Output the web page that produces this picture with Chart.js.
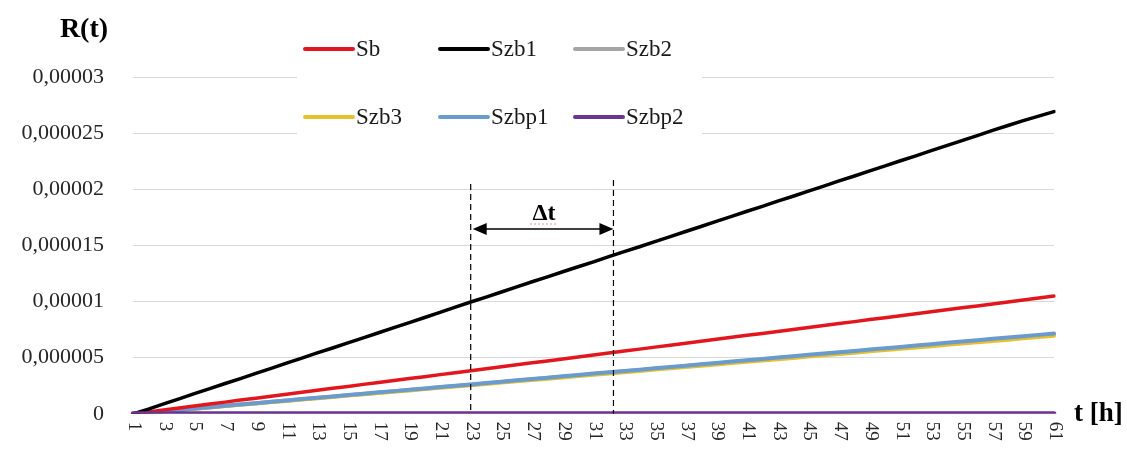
<!DOCTYPE html>
<html><head><meta charset="utf-8">
<script src="https://cdn.jsdelivr.net/npm/chart.js@4.4.1/dist/chart.umd.min.js"></script>
<style>html,body{margin:0;padding:0;background:#fff;}canvas{display:block;}</style>
</head><body>
<canvas id="c" width="1127" height="456"></canvas>
<script>
const CATEGORIES = ['1','2','3','4','5','6','7','8','9','10','11','12','13','14','15','16','17','18','19','20',
  '21','22','23','24','25','26','27','28','29','30','31','32','33','34','35','36','37','38','39','40',
  '41','42','43','44','45','46','47','48','49','50','51','52','53','54','55','56','57','58','59','60','61'];

// values in units of 1e-6
const SB = [0,0.16,0.35,0.52,0.69,0.87,1.04,1.22,1.38,1.57,
  1.74,1.91,2.09,2.27,2.43,2.62,2.79,2.96,3.14,3.31,
  3.49,3.66,3.84,4.01,4.19,4.36,4.54,4.71,4.89,5.06,
  5.24,5.41,5.59,5.76,5.94,6.11,6.29,6.46,6.64,6.81,
  6.99,7.16,7.34,7.51,7.69,7.86,8.04,8.21,8.39,8.56,
  8.74,8.91,9.09,9.26,9.44,9.61,9.79,9.96,10.14,10.31,
  10.49];
const SZB1 = [0,0.42,0.88,1.33,1.80,2.24,2.70,3.14,3.60,4.05,
  4.52,4.96,5.42,5.86,6.32,6.77,7.22,7.68,8.12,8.58,
  9.04,9.50,9.96,10.40,10.85,11.30,11.76,12.20,12.65,13.10,
  13.54,14.00,14.44,14.88,15.34,15.78,16.24,16.68,17.14,17.58,
  18.04,18.48,18.94,19.38,19.84,20.28,20.74,21.18,21.64,22.08,
  22.54,22.98,23.44,23.88,24.34,24.78,25.24,25.68,26.12,26.52,
  26.92];
const SZB2 = [0,0.11,0.23,0.35,0.46,0.58,0.70,0.82,0.94,1.06,
  1.18,1.29,1.41,1.53,1.65,1.77,1.88,2.00,2.12,2.24,
  2.36,2.48,2.59,2.71,2.83,2.95,3.07,3.18,3.30,3.42,
  3.54,3.66,3.78,3.89,4.01,4.13,4.25,4.37,4.48,4.60,
  4.72,4.84,4.96,5.07,5.19,5.31,5.43,5.55,5.66,5.78,
  5.90,6.02,6.14,6.25,6.37,6.49,6.61,6.73,6.84,6.96,
  7.08];
const SZB3 = [0,0.11,0.22,0.34,0.45,0.57,0.69,0.80,0.92,1.04,
  1.15,1.27,1.38,1.50,1.62,1.73,1.85,1.96,2.08,2.20,
  2.31,2.43,2.54,2.66,2.78,2.89,3.01,3.12,3.24,3.36,
  3.47,3.59,3.70,3.82,3.94,4.05,4.17,4.28,4.40,4.52,
  4.63,4.75,4.86,4.98,5.10,5.21,5.33,5.44,5.56,5.68,
  5.79,5.91,6.02,6.14,6.26,6.37,6.49,6.60,6.72,6.84,
  6.95];
const SZBP1 = [0,0.11,0.23,0.35,0.47,0.59,0.71,0.83,0.95,1.07,
  1.19,1.31,1.43,1.55,1.67,1.79,1.91,2.02,2.14,2.26,
  2.38,2.50,2.62,2.74,2.86,2.98,3.10,3.22,3.34,3.46,
  3.58,3.70,3.82,3.93,4.05,4.17,4.29,4.41,4.53,4.65,
  4.77,4.89,5.01,5.13,5.25,5.37,5.48,5.60,5.72,5.84,
  5.96,6.08,6.20,6.32,6.44,6.56,6.68,6.80,6.91,7.03,
  7.15];
const SZBP2 = [0,0,0,0,0,0,0,0,0,0,
  0,0,0,0,0,0,0,0,0,0,
  0,0,0,0,0,0,0,0,0,0,
  0,0,0,0,0,0,0,0,0,0,
  0,0,0,0,0,0,0,0,0,0,
  0,0,0,0,0,0,0,0,0,0,
  0];
const UNIT = 1e-6;

const SERIES_NAMES = ['Sb','Szb1','Szb2','Szb3','Szbp1','Szbp2'];
const SERIES_VALUES = [SB, SZB1, SZB2, SZB3, SZBP1, SZBP2];
const SERIES_COLORS = ['#e3151d','#000000','#a5a5a5','#e8c02c','#6a9bcf','#6b3594'];
const SERIES_WIDTHS = [3.5, 3.5, 4, 4, 4, 5];
const SERIES_ORDER = [2, 1, 5, 4, 3, 0];

const Y_TICK_LABELS = ['0','0,000005','0,00001','0,000015','0,00002','0,000025','0,00003'];
const Y_TITLE = 'R(t)';
const X_TITLE = 't [h]';
const DELTA_LABEL = '\u0394t';
const DELTA_MARKS = [23, 32.3]; // t values of the dashed markers

const SERIF = '"Liberation Serif", "Times New Roman", serif';

const overlay = {
  id: 'overlay',
  afterDraw(chart) {
    const ctx = chart.ctx;
    const xs = chart.scales.x;
    const area = chart.chartArea;
    ctx.save();

    // x tick labels, rotated to read top-to-bottom, every other category
    ctx.fillStyle = '#262626';
    ctx.font = '19px ' + SERIF;
    ctx.textAlign = 'left';
    ctx.textBaseline = 'middle';
    CATEGORIES.forEach((lab, i) => {
      if (i % 2 !== 0) return;
      const px = xs.getPixelForValue(i);
      ctx.save();
      ctx.translate(px + 1, area.bottom + 8);
      ctx.rotate(Math.PI / 2);
      ctx.fillText(lab, 0, 0);
      ctx.restore();
    });

    // axis titles
    ctx.fillStyle = '#000';
    ctx.font = 'bold 28px ' + SERIF;
    ctx.textAlign = 'center';
    ctx.textBaseline = 'middle';
    ctx.fillText(Y_TITLE, 84, 30);
    ctx.textAlign = 'left';
    ctx.font = 'bold 27px ' + SERIF;
    ctx.fillText(X_TITLE, 1074, area.bottom);

    // legend box
    ctx.fillStyle = '#ffffff';
    ctx.fillRect(297, 26, 405, 112);
    const cols = [305, 440, 575];
    const rows = [49, 117];
    ctx.font = '23px ' + SERIF;
    ctx.textBaseline = 'middle';
    ctx.textAlign = 'left';
    SERIES_NAMES.forEach((name, i) => {
      const cx = cols[i % 3], cy = rows[Math.floor(i / 3)];
      ctx.strokeStyle = SERIES_COLORS[i];
      ctx.lineWidth = 4;
      ctx.lineCap = 'round';
      ctx.beginPath();
      ctx.moveTo(cx, cy);
      ctx.lineTo(cx + 48, cy);
      ctx.stroke();
      ctx.fillStyle = '#1a1a1a';
      ctx.fillText(name, cx + 51, cy + 1);
    });

    // dashed markers
    const x1 = xs.getPixelForValue(DELTA_MARKS[0] - 1);
    const x2 = xs.getPixelForValue(DELTA_MARKS[1] - 1);
    ctx.strokeStyle = '#000';
    ctx.lineWidth = 1.2;
    ctx.lineCap = 'butt';
    ctx.setLineDash([6, 4]);
    [[x1, 184], [x2, 180]].forEach(([x, top]) => {
      ctx.beginPath();
      ctx.moveTo(x, top);
      ctx.lineTo(x, area.bottom);
      ctx.stroke();
    });
    ctx.setLineDash([]);

    // double arrow
    const ay = 229;
    ctx.lineWidth = 1.5;
    ctx.beginPath();
    ctx.moveTo(x1 + 12, ay);
    ctx.lineTo(x2 - 12, ay);
    ctx.stroke();
    ctx.fillStyle = '#000';
    ctx.beginPath();
    ctx.moveTo(x1 + 2, ay); ctx.lineTo(x1 + 16, ay - 6); ctx.lineTo(x1 + 16, ay + 6); ctx.closePath();
    ctx.fill();
    ctx.beginPath();
    ctx.moveTo(x2, ay); ctx.lineTo(x2 - 14, ay - 6); ctx.lineTo(x2 - 14, ay + 6); ctx.closePath();
    ctx.fill();

    // delta label
    ctx.font = 'bold 24px ' + SERIF;
    ctx.textAlign = 'center';
    ctx.textBaseline = 'alphabetic';
    ctx.fillText(DELTA_LABEL, (x1 + x2) / 2 + 2, 220);
    ctx.strokeStyle = 'rgba(220,60,60,0.6)';
    ctx.lineWidth = 1;
    ctx.setLineDash([2, 2]);
    ctx.beginPath();
    ctx.moveTo((x1 + x2) / 2 - 12, 224);
    ctx.lineTo((x1 + x2) / 2 + 16, 224);
    ctx.stroke();
    ctx.restore();
  }
};

new Chart(document.getElementById('c'), {
  type: 'line',
  data: {
    labels: CATEGORIES,
    datasets: SERIES_NAMES.map((name, i) => ({
      label: name,
      data: SERIES_VALUES[i].map(v => v * UNIT),
      borderColor: SERIES_COLORS[i],
      backgroundColor: SERIES_COLORS[i],
      borderWidth: SERIES_WIDTHS[i],
      pointRadius: 0,
      tension: 0,
      fill: false,
      order: SERIES_ORDER[i],
      borderCapStyle: 'round',
      borderJoinStyle: 'round'
    }))
  },
  options: {
    responsive: false,
    animation: false,
    layout: { padding: { top: 77, right: 73, bottom: 0, left: 0 } },
    plugins: { legend: { display: false }, tooltip: { enabled: false }, title: { display: false } },
    scales: {
      x: {
        type: 'category',
        offset: false,
        grid: { display: false },
        border: { display: true, color: '#d9d9d9' },
        ticks: { display: false },
        afterFit(scale) { scale.height = 32; }
      },
      y: {
        min: 0,
        max: 0.00003,
        grid: { color: '#d9d9d9', lineWidth: 1, drawTicks: false },
        border: { display: false },
        ticks: {
          stepSize: 0.000005,
          padding: 29,
          color: '#262626',
          font: { family: SERIF, size: 22 },
          callback: (v, i) => Y_TICK_LABELS[i]
        },
        afterFit(scale) { scale.width = 133; }
      }
    }
  },
  plugins: [overlay]
});
</script>
</body></html>
